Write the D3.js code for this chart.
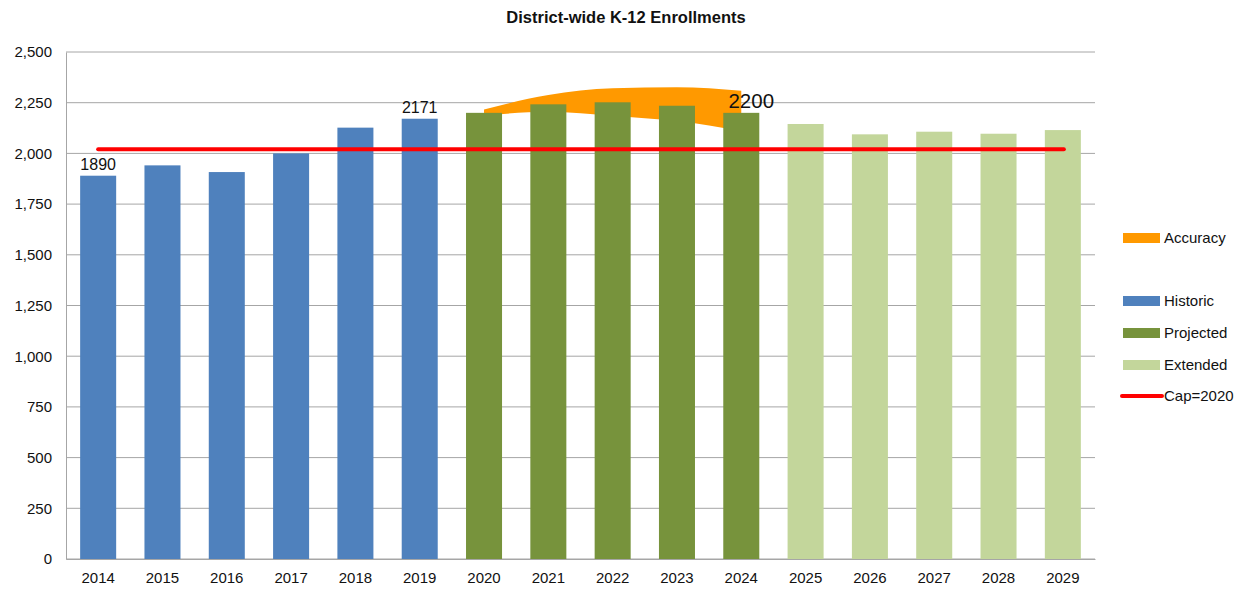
<!DOCTYPE html>
<html lang="en">
<head>
<meta charset="utf-8">
<title>District-wide K-12 Enrollments</title>
<script src="https://cdn.jsdelivr.net/npm/d3@7"></script>
<style>
  body { margin: 0; background: #fff; }
  text { font-family: "Liberation Sans", Arial, sans-serif; fill: #111; }
</style>
</head>
<body>
<div id="bod"></div>
<script>
// enrollment data
const years = ["2014","2015","2016","2017","2018","2019","2020","2021","2022","2023","2024","2025","2026","2027","2028","2029"];
const enrollment = [1890, 1941, 1908, 2000, 2127, 2171, 2200, 2242, 2252, 2235, 2200, 2145, 2094, 2107, 2097, 2115];
const phase = ["Historic","Historic","Historic","Historic","Historic","Historic","Projected","Projected","Projected","Projected","Projected","Extended","Extended","Extended","Extended","Extended"];
const capacity = 2020;
// accuracy band, 2020-2024
const accYears = ["2020","2021","2022","2023","2024"];
const accHigh = [2217, 2288, 2321, 2326, 2309];
const accLow = [2186, 2205, 2185, 2160, 2110];
const labelled = {"2014": "1890", "2019": "2171", "2024": "2200"};
const yTicks = [0, 250, 500, 750, 1000, 1250, 1500, 1750, 2000, 2250, 2500];

const colors = {Historic: "#4f81bd", Projected: "#77933c", Extended: "#c3d69b", Accuracy: "#ff9900", Cap: "#ff0000"};

const W = 1241, H = 590;
const margin = {top: 52, right: 146, bottom: 31, left: 66};
const w = W - margin.left - margin.right;
const h = H - margin.top - margin.bottom;

const svg = d3.select("#bod").append("svg")
  .attr("width", W)
  .attr("height", H);

svg.append("text")
  .attr("x", 626).attr("y", 23)
  .attr("text-anchor", "middle")
  .attr("font-size", 16.5).attr("font-weight", "bold")
  .text("District-wide K-12 Enrollments");

const g = svg.append("g")
  .attr("transform", "translate(" + margin.left + "," + margin.top + ")");

const x = d3.scaleBand().domain(years).range([0, w]).paddingInner(0.44).paddingOuter(0.22);
const y = d3.scaleLinear().domain([0, 2500]).range([h, 0]);

// gridlines
g.append("g")
  .selectAll("line").data(yTicks).join("line")
    .attr("x1", 0).attr("x2", w)
    .attr("y1", d => y(d)).attr("y2", d => y(d))
    .attr("stroke", "#a6a6a6").attr("stroke-width", 1);

// y axis
const yAxis = d3.axisLeft(y).tickValues(yTicks).tickSize(0).tickPadding(14).tickFormat(d3.format(","));
g.append("g").call(yAxis)
  .call(s => s.select(".domain").attr("stroke", "#a6a6a6"))
  .selectAll("text").attr("font-size", 15);

// accuracy band (behind bars)
const cx = d => x(d) + x.bandwidth() / 2;
const area = d3.area()
  .x((d, i) => cx(accYears[i]))
  .y0((d, i) => y(accLow[i]))
  .y1((d, i) => y(accHigh[i]))
  .curve(d3.curveMonotoneX);
g.append("path")
  .datum(accYears)
  .attr("d", area)
  .attr("fill", colors.Accuracy);

// bars
g.append("g")
  .selectAll("rect").data(years).join("rect")
    .attr("x", d => x(d))
    .attr("width", x.bandwidth())
    .attr("y", (d, i) => y(enrollment[i]))
    .attr("height", (d, i) => h - y(enrollment[i]))
    .attr("fill", (d, i) => colors[phase[i]]);

// x axis
const xAxis = d3.axisBottom(x).tickSize(0).tickPadding(13);
g.append("g")
  .attr("transform", "translate(0," + h + ")")
  .call(xAxis)
  .call(s => s.select(".domain").attr("stroke", "#a6a6a6"))
  .selectAll("text").attr("font-size", 15);

// capacity line
g.append("line")
  .attr("x1", cx(years[0])).attr("x2", cx(years[years.length - 1]) + 1)
  .attr("y1", y(capacity)).attr("y2", y(capacity))
  .attr("stroke", colors.Cap).attr("stroke-width", 4).attr("stroke-linecap", "round");

// value labels
g.append("g")
  .selectAll("text").data(Object.keys(labelled)).join("text")
    .attr("x", d => cx(d) + (d === "2024" ? 10 : 0))
    .attr("y", d => y(enrollment[years.indexOf(d)]) - (d === "2024" ? 5 : 6))
    .attr("text-anchor", "middle")
    .attr("font-size", d => d === "2024" ? 20.5 : 16)
    .text(d => labelled[d]);

// legend
const legendItems = [
  {name: "Accuracy", key: "Accuracy", y: 238},
  {name: "Historic", key: "Historic", y: 301},
  {name: "Projected", key: "Projected", y: 333},
  {name: "Extended", key: "Extended", y: 365},
  {name: "Cap=2020", key: "Cap", y: 396}
];
const legend = svg.append("g");
legendItems.forEach(it => {
  if (it.key === "Cap") {
    legend.append("line")
      .attr("x1", 1122).attr("x2", 1162).attr("y1", it.y).attr("y2", it.y)
      .attr("stroke", colors.Cap).attr("stroke-width", 4).attr("stroke-linecap", "round");
  } else {
    legend.append("rect")
      .attr("x", 1123).attr("y", it.y - 5).attr("width", 37).attr("height", 10)
      .attr("fill", colors[it.key]);
  }
  legend.append("text")
    .attr("x", 1164).attr("y", it.y + 5)
    .attr("font-size", 15)
    .text(it.name);
});
</script>
</body>
</html>
